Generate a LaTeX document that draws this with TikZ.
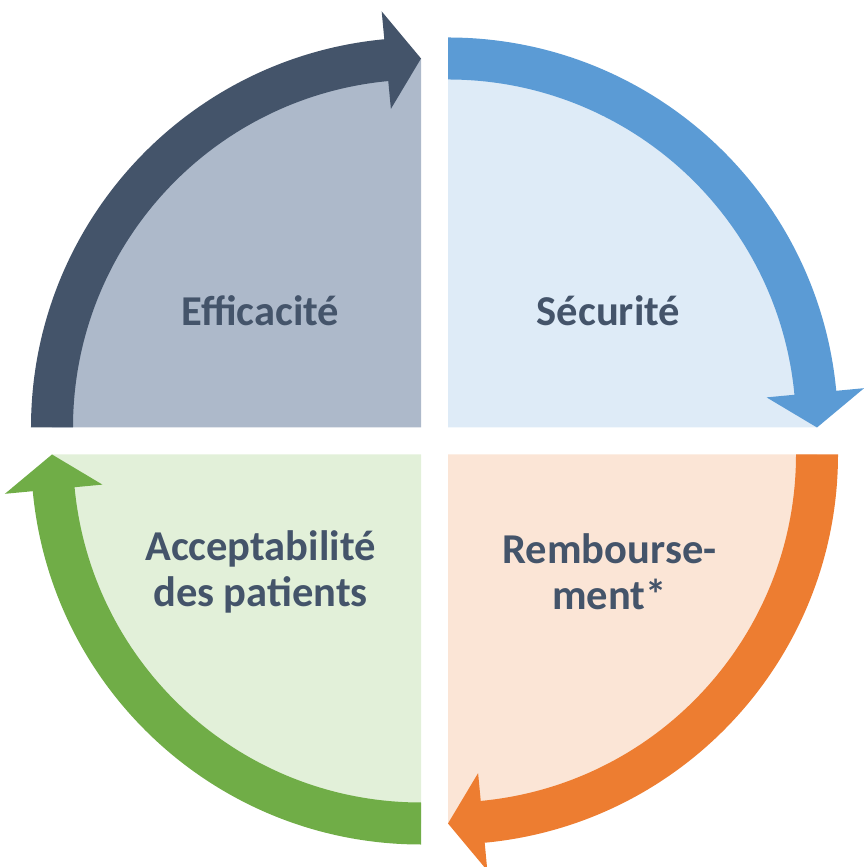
\documentclass[tikz,border=0pt]{standalone}
\usepackage{fontspec}
\setmainfont{Carlito}
\definecolor{navy}{HTML}{44546A}
\definecolor{navylight}{HTML}{ADB9CA}
\definecolor{sky}{HTML}{5B9BD5}
\definecolor{skylight}{HTML}{DEEBF7}
\definecolor{tangerine}{HTML}{ED7D31}
\definecolor{tangerinelight}{HTML}{FBE5D6}
\definecolor{leaf}{HTML}{70AD47}
\definecolor{leaflight}{HTML}{E2F0D9}
\tikzset{
  label/.style={text=navy,font=\fontsize{12.1}{13.1}\selectfont\bfseries,align=center}
}
\begin{document}
\begin{tikzpicture}
			\useasboundingbox (-4.345,-4.26) rectangle (4.285,4.41);
			% Efficacite (top left)
			\begin{scope}[shift={(-0.135,0.135)}]
				\fill[navylight] (0,0) -- (180:3.69) arc (180:90:3.69) -- cycle;
				\fill[navy] (180:3.9) arc (180:95.4:3.9) -- (95.4:4.18) -- (90:3.69) -- (95.4:3.2) -- (95.4:3.48) arc (95.4:180:3.48) -- cycle;
			\end{scope}
			% Securite (top right)
			\begin{scope}[shift={(0.135,0.135)}]
				\fill[skylight] (0,0) -- (90:3.69) arc (90:0:3.69) -- cycle;
				\fill[sky] (90:3.9) arc (90:5.4:3.9) -- (5.4:4.18) -- (0:3.69) -- (5.4:3.2) -- (5.4:3.48) arc (5.4:90:3.48) -- cycle;
			\end{scope}
			% Remboursement (bottom right)
			\begin{scope}[shift={(0.135,-0.135)}]
				\fill[tangerinelight] (0,0) -- (0:3.69) arc (0:-90:3.69) -- cycle;
				\fill[tangerine] (0:3.9) arc (0:-84.6:3.9) -- (-84.6:4.18) -- (-90:3.69) -- (-84.6:3.2) -- (-84.6:3.48) arc (-84.6:0:3.48) -- cycle;
			\end{scope}
			% Acceptabilite (bottom left)
			\begin{scope}[shift={(-0.135,-0.135)}]
				\fill[leaflight] (0,0) -- (270:3.69) arc (270:180:3.69) -- cycle;
				\fill[leaf] (270:3.9) arc (270:185.4:3.9) -- (185.4:4.18) -- (180:3.69) -- (185.4:3.2) -- (185.4:3.48) arc (185.4:270:3.48) -- cycle;
			\end{scope}
			
			\node[label] (eff) at (-1.74,1.30) {Efficacité};
			\node[label] (sec) at (1.74,1.30) {Sécurité};
			\node[label] (remb) at (1.75,-1.31) {Rembourse-\\ment*};
			\node[label] (acc) at (-1.74,-1.31) {Acceptabilité\\des patients};
\end{tikzpicture}
\end{document}
